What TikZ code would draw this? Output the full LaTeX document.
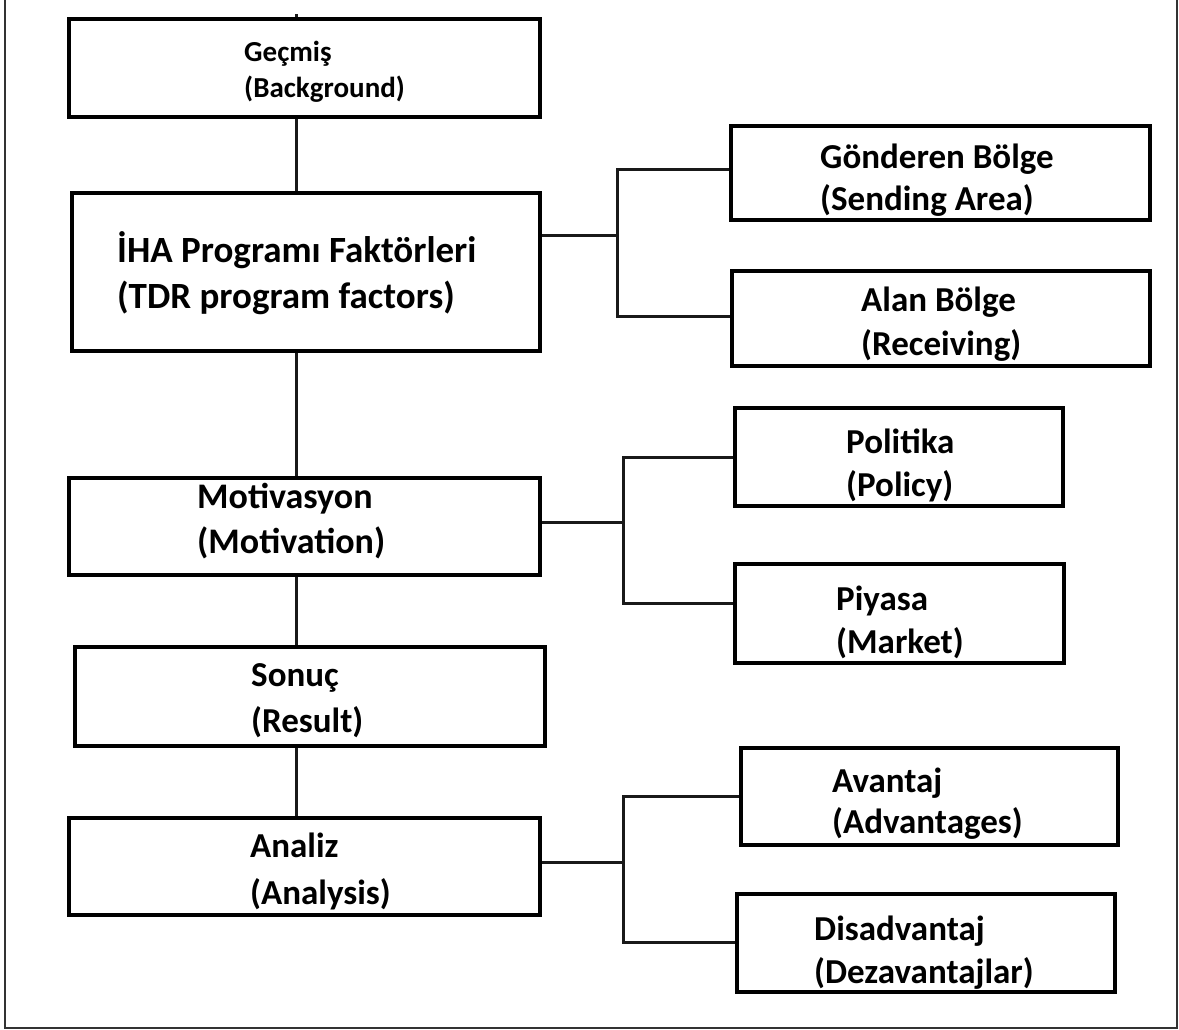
\documentclass[tikz,border=0pt]{standalone}
\usepackage{fontspec}
\setmainfont{Carlito}
\usetikzlibrary{positioning}

\begin{document}
\begin{tikzpicture}[x=1pt,y=-1pt,
    box/.style={draw=black, line width=3.4pt, rectangle, inner sep=0},
    lbl/.style={anchor=base west, align=left, inner sep=0,
      font=\bfseries\fontsize{35}{43}\selectfont},
    link/.style={draw=black!90, line width=3pt}]
  \useasboundingbox (0,0) rectangle (1179,1029);
  \draw[black!80, line width=1.6pt] (5,0) -- (5,1028) -- (1177,1028) -- (1177,0);
  % left column
  \node[box, minimum width=471, minimum height=98]  (gecmis)   at (304.5, 68)   {};
  \node[box, minimum width=468, minimum height=158] (iha)      at (306, 272)    {};
  \node[box, minimum width=471, minimum height=97]  (motiv)    at (304.5, 526.5) {};
  \node[box, minimum width=470, minimum height=99]  (sonuc)    at (310, 696.5)  {};
  \node[box, minimum width=471, minimum height=97]  (analiz)   at (304.5, 866.5) {};
  % right column
  \node[box, minimum width=419, minimum height=94]  (gonderen) at (940.5, 173)  {};
  \node[box, minimum width=418, minimum height=95]  (alan)     at (941, 318.5)  {};
  \node[box, minimum width=328, minimum height=98]  (politika) at (899, 457)    {};
  \node[box, minimum width=329, minimum height=99]  (piyasa)   at (899.5, 613.5) {};
  \node[box, minimum width=377, minimum height=97]  (avantaj)  at (929.5, 796.5) {};
  \node[box, minimum width=378, minimum height=98]  (dezav)    at (926, 943)    {};
  % texts (anchored on the last line)
  \node[lbl, font=\bfseries\fontsize{29}{36}\selectfont] (gecmis-txt) at (244, 97)
    {Geçmiş\\(Background)};
  \node[lbl, font=\bfseries\fontsize{37}{46}\selectfont] (iha-txt) at (117, 308)
    {İHA Programı Faktörleri\\(TDR program factors)};
  \node[lbl, font=\bfseries\fontsize{36}{45}\selectfont] (motiv-txt) at (197, 553)
    {Motivasyon\\(Motivation)};
  \node[lbl, font=\bfseries\fontsize{35}{46}\selectfont] (sonuc-txt) at (251, 732)
    {Sonuç\\(Result)};
  \node[lbl, font=\bfseries\fontsize{35}{47}\selectfont] (analiz-txt) at (250, 904)
    {Analiz\\(Analysis)};
  \node[lbl, font=\bfseries\fontsize{35}{42}\selectfont] (gonderen-txt) at (820, 210)
    {Gönderen Bölge\\(Sending Area)};
  \node[lbl, font=\bfseries\fontsize{35}{44}\selectfont] (alan-txt) at (861, 355)
    {Alan Bölge\\(Receiving)};
  \node[lbl] (politika-txt) at (846, 496) {Politika\\(Policy)};
  \node[lbl] (piyasa-txt)   at (836, 653) {Piyasa\\(Market)};
  \node[lbl, font=\bfseries\fontsize{35}{41}\selectfont] (avantaj-txt) at (832, 833)
    {Avantaj\\(Advantages)};
  \node[lbl] (dezav-txt)    at (814, 983) {Disadvantaj\\(Dezavantajlar)};
  % spine
  \coordinate (spine) at (296,14);
  \draw[link] (spine) -- (spine |- gecmis.north);
  \draw[link] (gecmis.south -| spine) -- (iha.north -| spine);
  \draw[link] (iha.south -| spine) -- (motiv.north -| spine);
  \draw[link] (motiv.south -| spine) -- (sonuc.north -| spine);
  \draw[link] (sonuc.south -| spine) -- (analiz.north -| spine);
  % branches
  \coordinate (fork1) at (617,235);
  \coordinate (fork2) at (623,522);
  \coordinate (fork3) at (623,862);
  \draw[link] (iha.east |- fork1) -- (fork1);
  \draw[link] (gonderen.west |- 0,169) -| (fork1) |- (alan.west |- 0,316);
  \draw[link] (motiv.east |- fork2) -- (fork2);
  \draw[link] (politika.west |- 0,457) -| (fork2) |- (piyasa.west |- 0,603);
  \draw[link] (analiz.east |- fork3) -- (fork3);
  \draw[link] (avantaj.west |- 0,796) -| (fork3) |- (dezav.west |- 0,942);
\end{tikzpicture}
\end{document}
